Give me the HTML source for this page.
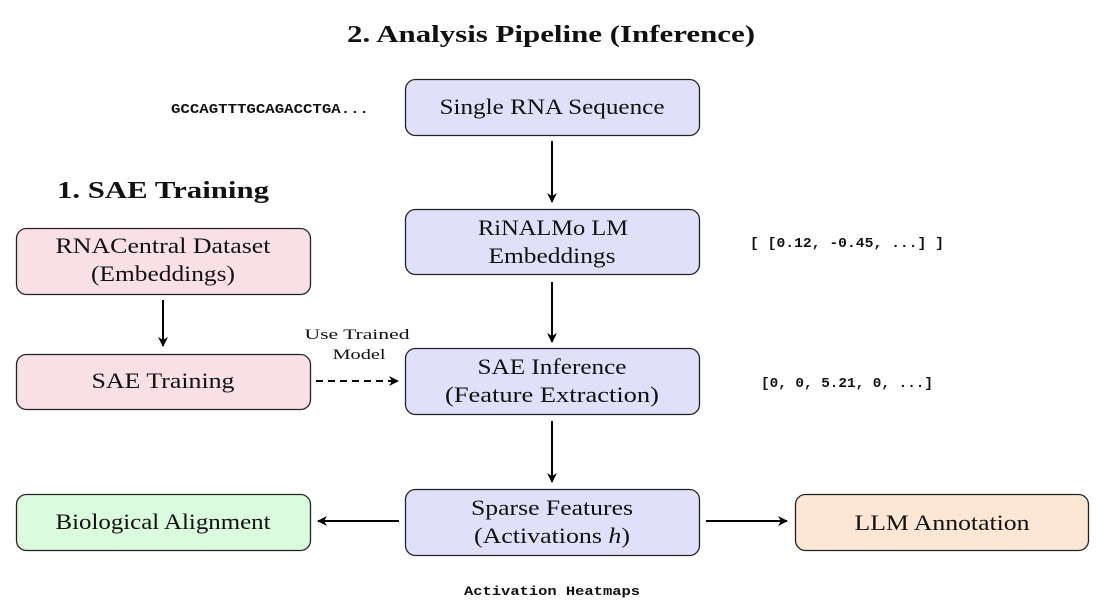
<!DOCTYPE html>
<html><head><meta charset="utf-8"><style>
html,body{margin:0;padding:0;background:#fff;width:1110px;height:609px;overflow:hidden}
svg text{font-family:"Liberation Serif",serif;fill:#111}
.m{font-family:"Liberation Mono",monospace !important;font-weight:bold}
</style></head><body>
<svg width="1110" height="609" viewBox="0 0 1110 609" xmlns="http://www.w3.org/2000/svg">
<defs><marker id="a" markerWidth="10" markerHeight="10" refX="9" refY="5" orient="auto" markerUnits="userSpaceOnUse"><path d="M0,0 L10,5 L0,10 L3,5 Z" fill="#000"/></marker></defs>
<g stroke="#222" stroke-width="1.3">
<rect x="405.5" y="79.5" width="294" height="56" rx="10" fill="#e0e0fb"/>
<rect x="405.5" y="209.5" width="294" height="65" rx="10" fill="#e0e0fb"/>
<rect x="405.5" y="348.5" width="294" height="66" rx="10" fill="#e0e0fb"/>
<rect x="405.5" y="489.5" width="294" height="66" rx="10" fill="#e0e0fb"/>
<rect x="16.5" y="228.5" width="294" height="66" rx="10" fill="#f9e0e6"/>
<rect x="16.5" y="354.5" width="294" height="55" rx="10" fill="#f9e0e6"/>
<rect x="16.5" y="494.5" width="294" height="56" rx="10" fill="#dbfbdf"/>
<rect x="795.5" y="494.5" width="293" height="56" rx="10" fill="#fde6d4"/>
</g>
<g stroke="#000" stroke-width="2" marker-end="url(#a)">
<line x1="552" y1="141" x2="552" y2="202"/>
<line x1="552" y1="282" x2="552" y2="342"/>
<line x1="552" y1="421" x2="552" y2="482"/>
<line x1="163" y1="300" x2="163" y2="346"/>
<line x1="316" y1="381" x2="398" y2="381" stroke-dasharray="7,5"/>
<line x1="399" y1="521" x2="318" y2="521"/>
<line x1="706" y1="521" x2="787" y2="521"/>
</g>
<text x="551" y="42" text-anchor="middle" font-size="24" font-weight="bold" textLength="408" lengthAdjust="spacingAndGlyphs">2. Analysis Pipeline (Inference)</text>
<text x="163" y="198" text-anchor="middle" font-size="24" font-weight="bold" textLength="212" lengthAdjust="spacingAndGlyphs">1. SAE Training</text>
<g font-size="22" text-anchor="middle">
<text x="552" y="114" textLength="225" lengthAdjust="spacingAndGlyphs">Single RNA Sequence</text>
<text x="553" y="235" textLength="150" lengthAdjust="spacingAndGlyphs">RiNALMo LM</text>
<text x="552" y="263" textLength="127" lengthAdjust="spacingAndGlyphs">Embeddings</text>
<text x="552" y="374" textLength="149" lengthAdjust="spacingAndGlyphs">SAE Inference</text>
<text x="552" y="402" textLength="214" lengthAdjust="spacingAndGlyphs">(Feature Extraction)</text>
<text x="552" y="515" textLength="162" lengthAdjust="spacingAndGlyphs">Sparse Features</text>
<text x="552" y="543" textLength="156" lengthAdjust="spacingAndGlyphs">(Activations <tspan font-style="italic">h</tspan>)</text>
<text x="163" y="253" textLength="215" lengthAdjust="spacingAndGlyphs">RNACentral Dataset</text>
<text x="163" y="281" textLength="144" lengthAdjust="spacingAndGlyphs">(Embeddings)</text>
<text x="163" y="388" textLength="143" lengthAdjust="spacingAndGlyphs">SAE Training</text>
<text x="163" y="529" textLength="215" lengthAdjust="spacingAndGlyphs">Biological Alignment</text>
<text x="942" y="530" textLength="175" lengthAdjust="spacingAndGlyphs">LLM Annotation</text>
</g>
<g font-size="15" text-anchor="middle">
<text x="357" y="339" textLength="105" lengthAdjust="spacingAndGlyphs">Use Trained</text>
<text x="359" y="359" textLength="53" lengthAdjust="spacingAndGlyphs">Model</text>
</g>
<g font-size="14">
<text class="m" x="171" y="113" textLength="198" lengthAdjust="spacingAndGlyphs">GCCAGTTTGCAGACCTGA...</text>
<text class="m" x="750" y="247" textLength="194" lengthAdjust="spacingAndGlyphs">[ [0.12, -0.45, ...] ]</text>
<text class="m" x="761" y="387" textLength="172" lengthAdjust="spacingAndGlyphs">[0, 0, 5.21, 0, ...]</text>
<text class="m" x="464" y="595" font-size="13" textLength="176" lengthAdjust="spacingAndGlyphs">Activation Heatmaps</text>
</g>
</svg>
</body></html>
